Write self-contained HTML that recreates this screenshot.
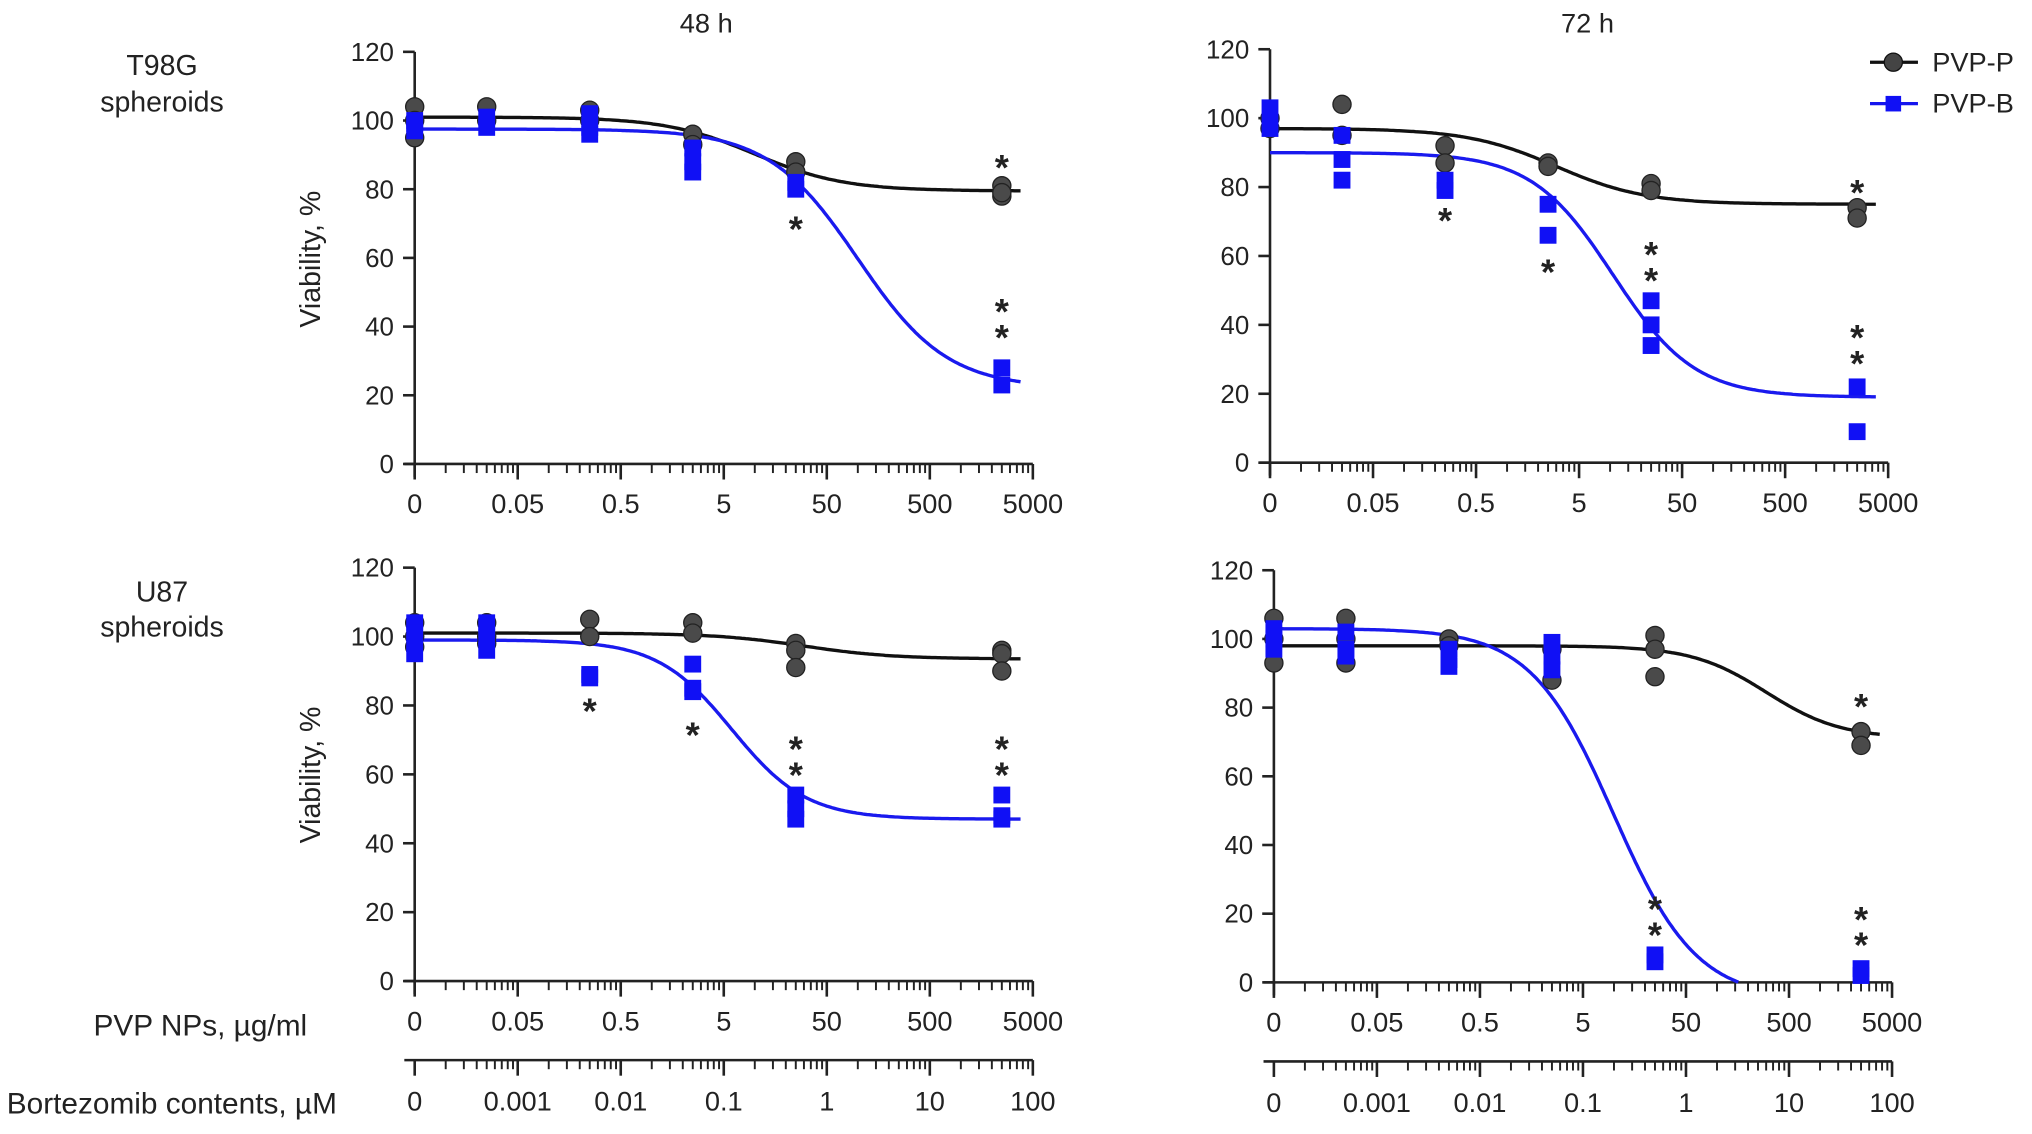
<!DOCTYPE html>
<html><head><meta charset="utf-8"><style>
html,body{margin:0;padding:0;background:#fff;}
svg{display:block;}
text{font-family:"Liberation Sans",sans-serif;fill:#222;}
</style></head><body>
<svg id="chart" width="2032" height="1134" viewBox="0 0 1568 875" preserveAspectRatio="none" xmlns="http://www.w3.org/2000/svg">
<text x="545" y="25" font-size="21" text-anchor="middle">48 h</text>
<text x="1225" y="25" font-size="21" text-anchor="middle">72 h</text>
<text x="125" y="58" font-size="22" text-anchor="middle">T98G</text>
<text x="125" y="86" font-size="22" text-anchor="middle">spheroids</text>
<text x="125" y="464" font-size="22" text-anchor="middle">U87</text>
<text x="125" y="491" font-size="22" text-anchor="middle">spheroids</text>
<text transform="translate(247,200) rotate(-90)" font-size="22" text-anchor="middle">Viability, %</text>
<text transform="translate(247,598) rotate(-90)" font-size="22" text-anchor="middle">Viability, %</text>
<text x="237" y="799" font-size="23" text-anchor="end">PVP NPs, µg/ml</text>
<text x="260" y="859" font-size="23" text-anchor="end">Bortezomib contents, µM</text>
<g>
<line x1="1443" y1="48" x2="1480" y2="48" stroke="#111" stroke-width="2.5"/>
<circle cx="1461" cy="48" r="7" fill="#444" stroke="#111"/>
<text x="1491" y="55" font-size="21">PVP-P</text>
<line x1="1443" y1="80" x2="1480" y2="80" stroke="#1515ee" stroke-width="2.5"/>
<rect x="1455" y="74" width="12" height="12" fill="#1010f5"/>
<text x="1491" y="87" font-size="21">PVP-B</text>
</g>
</svg>
<script>
// concentrations (µg/ml); 0 plotted at the axis origin
const concs = [0, 0.025, 0.25, 2.5, 25, 2500];
const xTickLabels = ["0","0.05","0.5","5","50","500","5000"];
const x2TickLabels = ["0","0.001","0.01","0.1","1","10","100"];
const yTicks = [0,20,40,60,80,100,120];

// panel A: T98G 48h
const aBlack = [[104,95,100],[104,100],[103,100],[96,93],[88,85],[81,78,79]];
const aBlue  = [[100,97,99],[101,98],[102,96,98],[92,88,85],[82,80],[28,23]];
const aFitBlack = [101, 79.5, 10, 1.0];   // top,bottom,EC50,hill
const aFitBlue  = [97.5, 22, 100, 1.0];
// panel B: T98G 72h
const bBlack = [[100,97],[104,95],[92,87],[87,86],[81,79],[74,71]];
const bBlue  = [[103,99,97],[95,88,82],[82,79],[75,66],[47,40,34],[22,9]];
const bFitBlack = [97, 75, 3, 1.0];
const bFitBlue  = [90, 19, 10.7, 1.1];
// panel C: U87 48h
const cBlack = [[104,100,97],[104,100,98],[105,100],[104,101],[98,96,91],[96,95,90]];
const cBlue  = [[104,101,98,95],[104,100,96],[89,88],[92,85,84],[54,50,47],[54,48,47]];
const cFitBlack = [101, 93.5, 30, 1.0];
const cFitBlue  = [99, 47, 6, 1.2];
// panel D: U87 72h
const dBlack = [[106,100,93],[106,100,93],[100,98],[97,88],[101,97,89],[73,69]];
const dBlue  = [[103,100,97],[102,97,95],[97,94,92],[99,95,91],[8,6],[4,2]];
const dFitBlack = [98, 71, 300, 1.2];
const dFitBlue  = [103, -5, 9.9, 1.08];

// significance stars: [concIndex, value, count]
const aStars = [[4,70,1],[5,88,1],[5,46,2]];
const bStars = [[2,72,1],[3,57,1],[4,62,2],[5,80,1],[5,38,2]];
const cStars = [[2,80,1],[3,73,1],[4,69,2],[5,69,2]];
const dStars = [[4,23,2],[5,20,2],[5,82,1]];

const NS = "http://www.w3.org/2000/svg";
const svg = document.getElementById('chart');
function mk(tag, attrs, parent){const e=document.createElementNS(NS,tag);for(const k in attrs)e.setAttribute(k,attrs[k]);(parent||svg).appendChild(e);return e;}

const panels = [
 {name:'t98g-48h', x0:320, y120:40, y0:358, blk:aBlack, blu:aBlue, fb:aFitBlack, fu:aFitBlue, stars:aStars, second:false},
 {name:'t98g-72h', x0:980, y120:38, y0:357, blk:bBlack, blu:bBlue, fb:bFitBlack, fu:bFitBlue, stars:bStars, second:false},
 {name:'u87-48h', x0:320, y120:438, y0:757, blk:cBlack, blu:cBlue, fb:cFitBlack, fu:cFitBlue, stars:cStars, second:true},
 {name:'u87-72h', x0:983, y120:440, y0:758, blk:dBlack, blu:dBlue, fb:dFitBlack, fu:dFitBlue, stars:dStars, second:true}
];
const DEC = 79.5, ORIG = Math.log10(0.005);

panels.forEach(p=>{
  const g = mk('g',{});
  
  
  const xs = c => p.x0 + ((c<=0?ORIG:Math.log10(c)) - ORIG)*DEC;
  const ys = v => p.y0 - v*(p.y0-p.y120)/120;
  const xEnd = p.x0 + 6*DEC;
  const ya = mk('line',{x1:p.x0,y1:p.y120,x2:p.x0,y2:p.y0+10,stroke:'#222','stroke-width':2},g);
  
  
  yTicks.forEach(t=>{
    mk('line',{x1:p.x0-9,y1:ys(t),x2:p.x0,y2:ys(t),stroke:'#222','stroke-width':2},g);
    const tl = mk('text',{x:p.x0-16,y:ys(t)+7,'font-size':20,'text-anchor':'end'},g);
    tl.textContent=t;
    
    
  });
  function xAxis(yy, labels, ly, nm){
    const xa = mk('line',{x1:p.x0-8,y1:yy,x2:xEnd,y2:yy,stroke:'#222','stroke-width':2},g);
    
    
    for(let d=0; d<=6; d++){
      const x = p.x0 + d*DEC;
      mk('line',{x1:x,y1:yy,x2:x,y2:yy+12,stroke:'#222','stroke-width':2},g);
      if(d<6) for(let m=2;m<=9;m++){const xm=x+Math.log10(m)*DEC;mk('line',{x1:xm,y1:yy,x2:xm,y2:yy+7,stroke:'#222','stroke-width':1.5},g);}
      const tl = mk('text',{x:x,y:ly,'font-size':21,'text-anchor':'middle'},g);
      tl.textContent = labels[d];
      
      
    }
  }
  xAxis(p.y0, xTickLabels, p.y0+38, 'x-axis-pvp');
  if(p.second) xAxis(p.y0+61, x2TickLabels, p.y0+100, 'x-axis-bortezomib');
  function curve(f, color, nm){
    let d='';
    for(let i=0;i<=300;i++){
      const lx = ORIG + i/300*6*0.98;
      const v = f[1] + (f[0]-f[1])/(1+Math.pow(10,(lx-Math.log10(f[2]))*f[3]));
      if(v<0) break;
      const x = p.x0 + (lx-ORIG)*DEC;
      d += (d?'L':'M')+x.toFixed(1)+','+ys(v).toFixed(1);
    }
    const path = mk('path',{d:d,fill:'none',stroke:color,'stroke-width':2.6},g);
    
    
  }
  curve(p.fb,'#111','fit-curve-pvp-p');
  curve(p.fu,'#1a1aee','fit-curve-pvp-b');
  p.blk.forEach((vals,i)=>vals.forEach(v=>{
    const c = mk('circle',{cx:xs(concs[i]),cy:ys(v),r:7,fill:'#4a4a4a',stroke:'#222','stroke-width':1},g);
    
    
  }));
  p.blu.forEach((vals,i)=>vals.forEach(v=>{
    const r = mk('rect',{x:xs(concs[i])-6.5,y:ys(v)-6.5,width:13,height:13,fill:'#1010f5'},g);
    
    
  }));
  p.stars.forEach(s=>{
    for(let k=0;k<s[2];k++){
      const t = mk('text',{x:xs(concs[s[0]]),y:ys(s[1])+14+k*20,'font-size':28,'font-weight':'bold','text-anchor':'middle'},g);
      t.textContent='*';
      
      
    }
  });
});
</script>
</body></html>
